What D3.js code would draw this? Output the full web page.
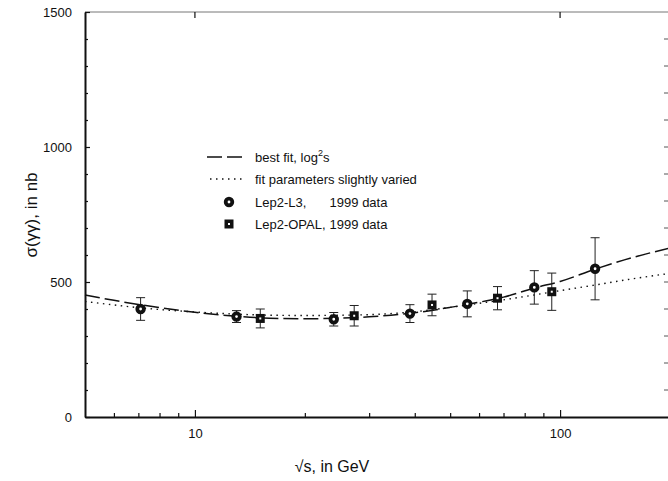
<!DOCTYPE html>
<html>
<head>
<meta charset="utf-8">
<script src="https://cdn.jsdelivr.net/npm/d3@7"></script>
<style>
  body { margin: 0; background: #fff; }
  text { font-family: "Liberation Sans", Arial, sans-serif; fill: #111; }
</style>
</head>
<body>
<svg id="chart" width="668" height="481"></svg>
<script>
// data
const l3X = [7.1, 13.0, 24.0, 38.8, 55.7, 85.0, 124.7];
const l3Y = [400, 372, 362, 383, 419, 480, 549];
const l3Err = [42, 22, 25, 33, 48, 62, 115];

const opalX = [15.1, 27.3, 44.6, 67.4, 94.9];
const opalY = [365, 375, 415, 440, 464];
const opalErr = [35, 38, 40, 43, 69];

// best fit, log^2 s  (dashed)
const fitX = [5, 6, 7, 8, 10, 13, 16, 20, 25, 30, 40, 50, 60, 70, 85, 100, 125, 150, 200];
const fitY = [452, 432, 417, 405, 388, 373, 366, 364, 366, 371, 386, 406, 425, 444, 478, 502, 548, 582, 626];
// fit parameters slightly varied (dotted)
const variedY = [428, 415, 405, 398, 389, 381, 377, 376, 377, 379, 390, 406, 421, 434, 452, 468, 489, 507, 532];

const yTicks = d3.range(0, 1501, 100);
const yLabels = [0, 500, 1000, 1500];
const xMajor = [10, 100];
const xMinor = [6, 7, 8, 9, 20, 30, 40, 50, 60, 70, 80, 90];

const margin = { left: 85, top: 12, right: 670, bottom: 417 };

const svg = d3.select('#chart');

const x = d3.scaleLog().domain([5, 200]).range([margin.left, margin.right]);
const y = d3.scaleLinear().domain([0, 1500]).range([margin.bottom, margin.top]);

// top frame line
svg.append('line')
    .attr('x1', margin.left).attr('x2', 668)
    .attr('y1', margin.top).attr('y2', margin.top)
    .attr('stroke', '#777').attr('stroke-width', 1);

// right side ticks
svg.append('g')
    .selectAll('line')
    .data(yTicks.filter(d => d > 0 && d < 1500))
    .enter()
    .append('line')
    .attr('x1', 664).attr('x2', 668)
    .attr('y1', d => y(d)).attr('y2', d => y(d))
    .attr('stroke', '#555').attr('stroke-width', 1);

// top ticks
svg.append('g')
    .selectAll('line')
    .data(xMajor)
    .enter()
    .append('line')
    .attr('x1', d => x(d)).attr('x2', d => x(d))
    .attr('y1', margin.top).attr('y2', margin.top + 6)
    .attr('stroke', '#111').attr('stroke-width', 1.2);

// bottom axis
const xAxisG = svg.append('g')
    .attr('transform', `translate(0,${margin.bottom})`)
    .call(d3.axisBottom(x)
        .tickValues(xMajor.concat(xMinor))
        .tickSizeInner(-4)
        .tickSizeOuter(0)
        .tickPadding(12)
        .tickFormat(d => xMajor.includes(d) ? d : ''));

xAxisG.select('.domain').attr('stroke', '#111').attr('stroke-width', 2);
xAxisG.selectAll('.tick line')
    .attr('stroke', '#111')
    .attr('stroke-width', 1.2)
    .attr('y2', d => xMajor.includes(d) ? -7 : -4);
xAxisG.selectAll('.tick text')
    .attr('font-size', 13)
    .attr('font-family', '"Liberation Sans", Arial, sans-serif')
    .attr('fill', '#111');

// left axis
const yAxisG = svg.append('g')
    .attr('transform', `translate(${margin.left},0)`)
    .call(d3.axisLeft(y)
        .tickValues(yTicks)
        .tickSizeInner(-4)
        .tickSizeOuter(0)
        .tickPadding(13)
        .tickFormat(d => yLabels.includes(d) ? d : ''));

yAxisG.select('.domain').attr('stroke', '#111').attr('stroke-width', 2);
yAxisG.selectAll('.tick line')
    .attr('stroke', '#111')
    .attr('stroke-width', 1.2)
    .attr('x2', d => yLabels.includes(d) ? 5 : 3);
yAxisG.selectAll('.tick text')
    .attr('font-size', 13)
    .attr('font-family', '"Liberation Sans", Arial, sans-serif')
    .attr('fill', '#111');

// axis titles
svg.append('text')
    .attr('transform', 'translate(37,215) rotate(-90)')
    .attr('text-anchor', 'middle')
    .attr('font-size', 17)
    .text('σ(γγ), in nb');

svg.append('text')
    .attr('x', 332).attr('y', 472)
    .attr('text-anchor', 'middle')
    .attr('font-size', 16)
    .text('√s, in GeV');

// curves
const plot = svg.append('g');

const fitLine = d3.line()
    .x(d => x(d[0]))
    .y(d => y(d[1]))
    .curve(d3.curveMonotoneX);

plot.append('path')
    .datum(fitX.map((d, i) => [d, fitY[i]]))
    .attr('d', fitLine)
    .attr('fill', 'none')
    .attr('stroke', '#111')
    .attr('stroke-width', 1.5)
    .attr('stroke-dasharray', '15,5');

plot.append('path')
    .datum(fitX.map((d, i) => [d, variedY[i]]))
    .attr('d', fitLine)
    .attr('fill', 'none')
    .attr('stroke', '#111')
    .attr('stroke-width', 1.4)
    .attr('stroke-dasharray', '1.5,4.5');

// error bars
function drawErrors(xs, ys, errs) {
    const g = plot.append('g').attr('stroke', '#222').attr('stroke-width', 1);
    xs.forEach(function (xv, i) {
        const cx = x(xv);
        const top = y(ys[i] + errs[i]);
        const bot = y(ys[i] - errs[i]);
        g.append('line').attr('x1', cx).attr('x2', cx).attr('y1', top).attr('y2', bot);
        g.append('line').attr('x1', cx - 4.5).attr('x2', cx + 4.5).attr('y1', top).attr('y2', top);
        g.append('line').attr('x1', cx - 4.5).attr('x2', cx + 4.5).attr('y1', bot).attr('y2', bot);
    });
}
drawErrors(l3X, l3Y, l3Err);
drawErrors(opalX, opalY, opalErr);

function circleMark(g, cx, cy) {
    g.append('circle')
        .attr('cx', cx).attr('cy', cy).attr('r', 3.3)
        .attr('fill', '#fff').attr('stroke', '#111').attr('stroke-width', 3.8);
}

function squareMark(g, cx, cy) {
    g.append('rect')
        .attr('x', cx - 4.5).attr('y', cy - 4.5)
        .attr('width', 9).attr('height', 9)
        .attr('fill', '#111');
    g.append('rect')
        .attr('x', cx - 1).attr('y', cy - 1)
        .attr('width', 2).attr('height', 2)
        .attr('fill', '#fff');
}

l3X.forEach((d, i) => circleMark(plot, x(d), y(l3Y[i])));
opalX.forEach((d, i) => squareMark(plot, x(d), y(opalY[i])));

// legend
const legend = svg.append('g');
const lx0 = 207, lx1 = 243, tx = 255;
const rows = [157, 179, 202, 224];

legend.append('line')
    .attr('x1', lx0).attr('x2', lx1)
    .attr('y1', rows[0]).attr('y2', rows[0])
    .attr('stroke', '#111').attr('stroke-width', 1.5)
    .attr('stroke-dasharray', '15,5');

legend.append('line')
    .attr('x1', lx0 + 3).attr('x2', lx1)
    .attr('y1', rows[1]).attr('y2', rows[1])
    .attr('stroke', '#111').attr('stroke-width', 1.4)
    .attr('stroke-dasharray', '1.5,4.5');

circleMark(legend, 229, rows[2]);
squareMark(legend, 229, rows[3]);

const t0 = legend.append('text')
    .attr('x', tx).attr('y', rows[0] + 4.5)
    .attr('font-size', 13);
t0.append('tspan').text('best fit, log');
t0.append('tspan').attr('font-size', 9).attr('dy', -6).text('2');
t0.append('tspan').attr('dy', 6).text('s');

legend.append('text')
    .attr('x', tx).attr('y', rows[1] + 4.5)
    .attr('font-size', 13)
    .text('fit parameters slightly varied');

legend.append('text')
    .attr('x', tx).attr('y', rows[2] + 4.5)
    .attr('font-size', 13)
    .text('Lep2-L3,');

const opalName = legend.append('text')
    .attr('x', tx).attr('y', rows[3] + 4.5)
    .attr('font-size', 13)
    .text('Lep2-OPAL,');

const dataX = tx + opalName.node().getComputedTextLength() + 4;

legend.append('text')
    .attr('x', dataX).attr('y', rows[2] + 4.5)
    .attr('font-size', 13)
    .text('1999 data');

legend.append('text')
    .attr('x', dataX).attr('y', rows[3] + 4.5)
    .attr('font-size', 13)
    .text('1999 data');
</script>
</body>
</html>
